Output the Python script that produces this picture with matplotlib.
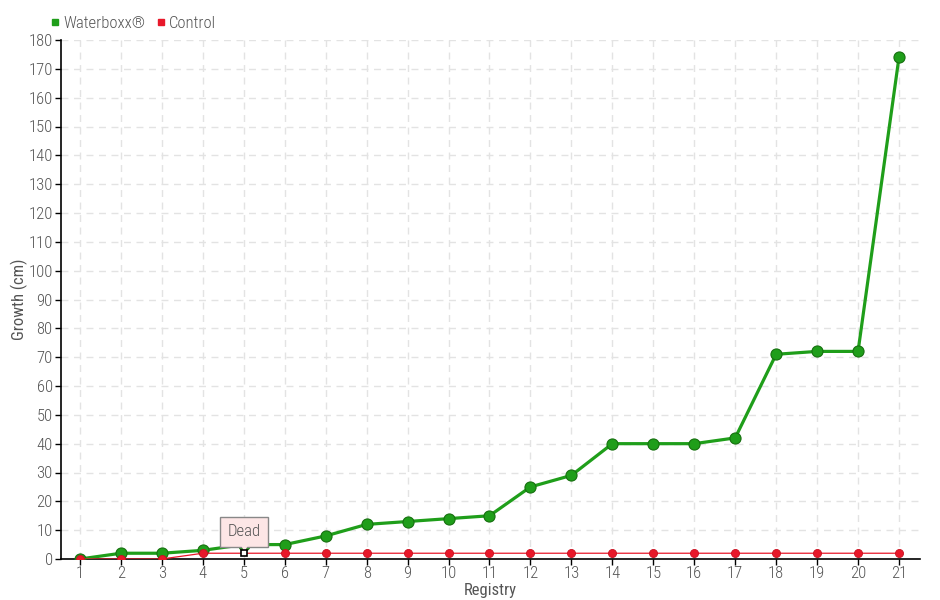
import matplotlib
matplotlib.use("Agg")
import matplotlib.pyplot as plt
from matplotlib.lines import Line2D
from matplotlib import font_manager

registry = list(range(1, 22))
waterboxx = [0, 2, 2, 3, 5, 5, 8, 12, 13, 14, 15, 25, 29, 40, 40, 40, 42, 71, 72, 72, 174]
control = [0, 0, 0, 2, 2, 2, 2, 2, 2, 2, 2, 2, 2, 2, 2, 2, 2, 2, 2, 2, 2]
dead_index = 4
yticks = list(range(0, 181, 10))

names = {f.name for f in font_manager.fontManager.ttflist}
fam = None
for cand in ["Liberation Sans Narrow", "Roboto Condensed", "Roboto", "Lato"]:
    if cand in names:
        fam = cand
        break
if fam is None:
    fam = "DejaVu Sans"
plt.rcParams['font.family'] = [fam, 'DejaVu Sans']
plt.rcParams['font.weight'] = 'light'

txt = '#555555'
green = '#1f9e1a'
red = '#e8182a'
fs = 12

fig = plt.figure(figsize=(9.4, 6), dpi=100)
ax = fig.add_axes([61/940, 41/600, (920-61)/940, (559-40)/600])

ax.plot(registry, waterboxx, color=green, lw=2.3, marker='o', ms=8,
        markerfacecolor=green, markeredgecolor='#16700f', markeredgewidth=0.8, zorder=3)
ctrl_x = [x for i, x in enumerate(registry) if i != dead_index]
ctrl_y = [y for i, y in enumerate(control) if i != dead_index]
ax.plot(registry, control, color=red, lw=0.9, zorder=4)
ax.plot(ctrl_x, ctrl_y, ls='none', marker='o', ms=5.8, color=red,
        markeredgecolor='#c81020', markeredgewidth=0.6, zorder=5)
ax.plot([registry[dead_index]], [control[dead_index]], ls='none', marker='s', ms=4.5,
        markerfacecolor='white', markeredgecolor='black', markeredgewidth=1.2, zorder=8)

ax.annotate('Dead', xy=(registry[dead_index], control[dead_index]),
            xytext=(0, 15.5), textcoords='offset points', ha='center', va='center',
            fontsize=fs, color=txt,
            bbox=dict(boxstyle='square,pad=0.45', fc='#fde6e6', ec='#888888', lw=1),
            zorder=7)
ax.plot([registry[dead_index]], [control[dead_index] + 2.4], ls='none', marker='v', ms=6,
        markerfacecolor='#fde6e6', markeredgecolor='#fde6e6', zorder=7.5)

ax.set_xlim(0.536, 21.513)
ax.set_ylim(0, 180)
ax.set_xticks(registry)
ax.set_yticks(yticks)
ax.tick_params(axis='both', colors='black', labelcolor=txt, labelsize=fs, length=4, width=1, pad=2)
ax.tick_params(axis='x', pad=1)
ax.grid(True, color='#e3e3e3', ls=(0, (5, 4)), lw=1)
ax.set_axisbelow(True)
for s in ['top', 'right']:
    ax.spines[s].set_visible(False)
for s in ['left', 'bottom']:
    ax.spines[s].set_color('black')
    ax.spines[s].set_linewidth(1.2)

ax.set_xlabel('Registry', fontsize=fs, color=txt)
ax.set_ylabel('Growth (cm)', fontsize=fs, color=txt)
ax.xaxis.set_label_coords((490-61)/859, -31/519)
ax.yaxis.set_label_coords(-(61-19)/859, 0.5)
ax.xaxis.label.set_va('center')
ax.yaxis.label.set_va('center')

handles = [Line2D([], [], ls='none', marker='s', ms=5, color=green),
           Line2D([], [], ls='none', marker='s', ms=5, color=red)]
fig.legend(handles, ['Waterboxx®', 'Control'], loc='upper left', bbox_to_anchor=(0.043, 0.99),
           ncol=2, frameon=False, fontsize=fs, handlelength=0.6, handletextpad=0.2,
           columnspacing=0.6, labelcolor=txt, borderaxespad=0.2)

fig.savefig('out.png', dpi=100)
